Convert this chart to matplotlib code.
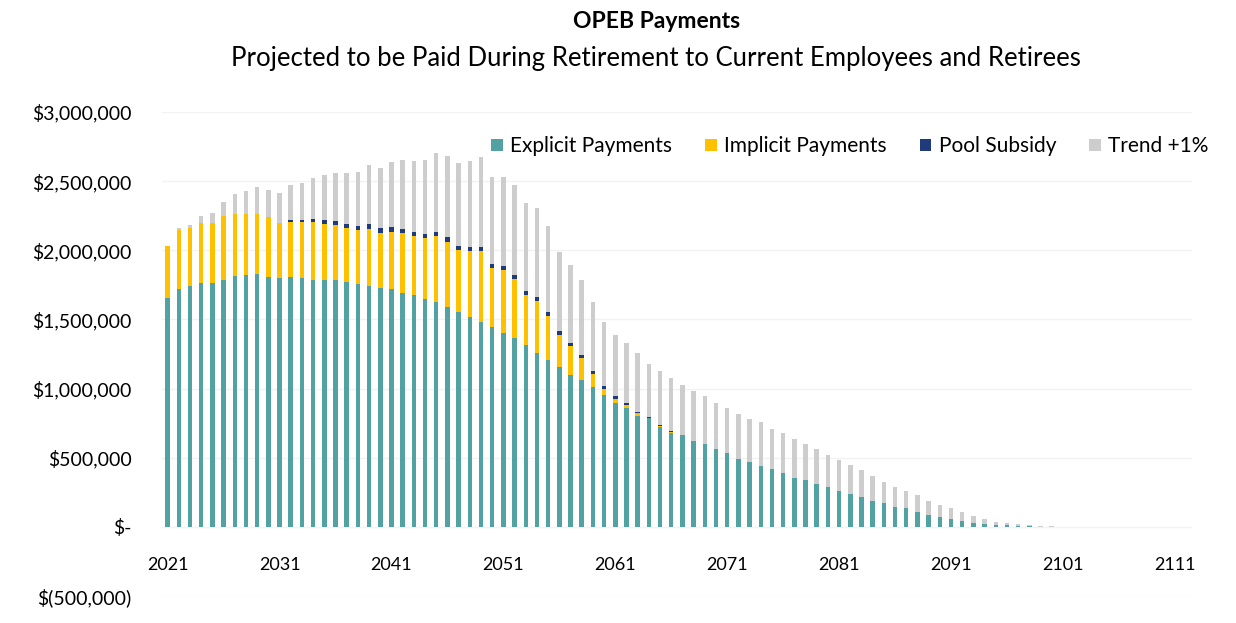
import numpy as np
import matplotlib
matplotlib.use('Agg')
import matplotlib.pyplot as plt
from matplotlib.ticker import FuncFormatter, FixedLocator
from matplotlib.patches import Patch

plt.rcParams['font.family'] = ['Lato', 'DejaVu Sans']

years = list(range(2021, 2113))

# values in thousands of dollars
explicit = [1652, 1720, 1744, 1760, 1760, 1785, 1816, 1820, 1826, 1810,
            1800, 1810, 1797, 1788, 1785, 1785, 1773, 1756, 1741, 1725,
            1717, 1693, 1676, 1645, 1628, 1592, 1556, 1520, 1483, 1447,
            1400, 1363, 1315, 1260, 1207, 1158, 1098, 1062, 1009, 954,
            895, 857, 802, 785, 725, 681, 665, 624, 600, 561,
            532, 489, 472, 438, 417, 388, 352, 340, 311, 287,
            262, 238, 219, 190, 176, 147, 135, 110, 87, 70,
            56, 43, 31, 22, 15, 10, 6, 4, 2, 1]
implicit = [378, 426, 414, 434, 434, 462, 446, 442, 436, 432,
            399, 393, 406, 417, 408, 401, 388, 391, 416, 403,
            418, 432, 425, 442, 476, 471, 444, 475, 512, 423,
            456, 428, 362, 374, 321, 232, 209, 156, 96, 45,
            33, 21, 19, 2, 4, 7]
pool = [0, 0, 0, 0, 0, 0, 0, 0, 0, 0,
        0, 15, 15, 20, 25, 25, 28, 28, 30, 30,
        30, 30, 30, 30, 30, 30, 30, 30, 30, 30,
        30, 30, 30, 30, 28, 28, 25, 25, 22, 20,
        18, 15, 12, 8, 8, 8]
trend = [0, 14, 22, 53, 72, 103, 148, 168, 197, 193,
         217, 253, 265, 298, 325, 345, 367, 392, 429, 434,
         475, 497, 516, 535, 566, 588, 598, 622, 651, 631,
         645, 650, 632, 639, 621, 571, 561, 542, 501, 464,
         441, 439, 427, 383, 392, 378, 361, 359, 346, 337,
         325, 327, 308, 320, 289, 293, 282, 260, 250, 233,
         222, 210, 193, 181, 151, 144, 123, 121, 103, 89,
         79, 67, 48, 34, 23, 17, 12, 6, 4, 2]

series_names = ['Explicit Payments', 'Implicit Payments', 'Pool Subsidy', 'Trend +1%']
colors = ['#52A2A4', '#FFC000', '#1F3B7C', '#CDCDCD']


def pad(vals):
    return np.array(vals + [0] * (len(years) - len(vals)), dtype=float) * 1000


data = [pad(explicit), pad(implicit), pad(pool), pad(trend)]
x = np.array(years)

fig = plt.figure(figsize=(12.36, 6.23), dpi=100)
ax = fig.add_axes([0.1311, 0.0433, 0.833, 0.777])

bottom = np.zeros(len(years))
for vals, c in zip(data, colors):
    ax.bar(x, vals, width=0.4, bottom=bottom, color=c, linewidth=0, zorder=3)
    bottom += vals

ax.set_xlim(2020.5, 2112.5)
ax.set_ylim(-500000, 3000000)
ax.yaxis.set_major_locator(FixedLocator(np.arange(-500000, 3000001, 500000)))


def money(v, pos):
    if v == 0:
        return '$-'
    if v < 0:
        return '$({:,.0f})'.format(-v)
    return '${:,.0f}'.format(v)


ax.yaxis.set_major_formatter(FuncFormatter(money))
ax.grid(axis='y', color='#F2F2F2', linewidth=1, zorder=0)

ax.spines['bottom'].set_position(('data', 0))
for s in ['top', 'right', 'left', 'bottom']:
    ax.spines[s].set_visible(False)
ax.set_xticks(list(range(2021, 2112, 10)))
ax.tick_params(axis='x', length=0, pad=22, labelsize=13)
ax.tick_params(axis='y', length=0, pad=22, labelsize=14)

handles = [Patch(facecolor=c, edgecolor='none') for c in colors]
fig.legend(handles, series_names, loc='center right', bbox_to_anchor=(0.993, 0.765),
           ncol=4, frameon=False, fontsize=15, handlelength=0.55, handleheight=0.55,
           handletextpad=0.35, columnspacing=1.6)

fig.text(0.531, 0.965, 'OPEB Payments', ha='center', va='center',
         fontsize=16.5, fontweight='bold')
fig.text(0.531, 0.906, 'Projected to be Paid During Retirement to Current Employees and Retirees',
         ha='center', va='center', fontsize=18.5)

fig.savefig('out.png', dpi=100)
